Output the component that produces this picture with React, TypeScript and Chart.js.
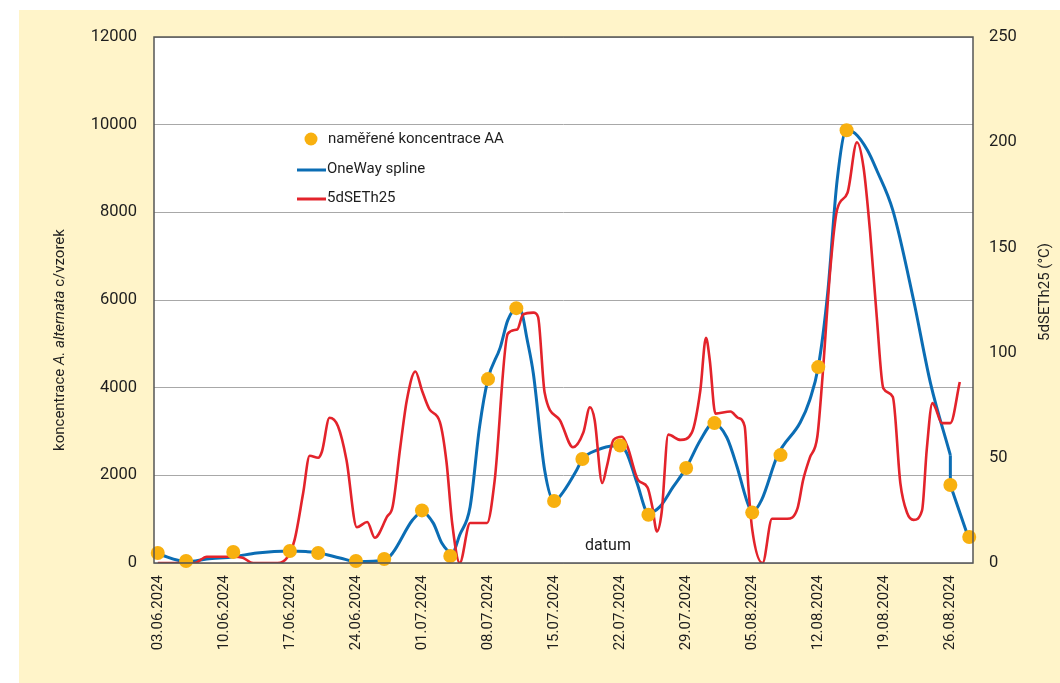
import React, { useEffect, useRef } from "react";
import { Chart, registerables } from "chart.js";

Chart.register(...registerables);

// ---- data ----
const weekLabels = [
  "03.06.2024", "10.06.2024", "17.06.2024", "24.06.2024", "01.07.2024",
  "08.07.2024", "15.07.2024", "22.07.2024", "29.07.2024", "05.08.2024",
  "12.08.2024", "19.08.2024", "26.08.2024",
];
const weekTickDays = [0, 7, 14, 21, 28, 35, 42, 49, 56, 63, 70, 77, 84];

// measured concentrations (days after 03.06.2024)
const measuredDays = [0, 3, 8, 14, 17, 21, 24, 28, 31, 35, 38, 42, 45, 49, 52, 56, 59, 63, 66, 70, 73, 84, 86];
const measuredValues = [228, 46, 250, 274, 228, 46, 91, 1200, 160, 4195, 5814, 1414, 2371, 2680, 1100, 2166, 3192, 1150, 2462, 4469, 9872, 1778, 593];

// OneWay spline (main part)
const splineDays = [
  0, 3.1, 5.2, 8.1, 10.5, 14.1, 15.7, 17.1, 19.3, 21.1, 24.1, 24.9, 27, 28, 29.2, 30.1, 31.2, 32, 33.1, 34.1,
  35, 36.3, 37.1, 38.1, 38.6, 39.1, 39.8, 41, 42, 42.9, 44.4, 45, 46.6, 48.3, 49, 49.7, 50.8, 52, 53.2, 54.6,
  56, 57.5, 58.9, 60.3, 61.4, 62.4, 63, 64, 65.7, 68.1, 69.1, 70, 71, 72, 73, 73.9, 75.2, 76.2, 77.9, 80.1,
  81.9, 84,
];
const splineValues = [
  205, 30, 90, 145, 230, 275, 260, 230, 115, 30, 70, 230, 980, 1160, 910, 455, 230, 640, 1280, 3100,
  4200, 4920, 5540, 5810, 5700, 5150, 4330, 2120, 1410, 1600, 2120, 2370, 2580, 2670, 2670, 2510, 1820, 1140, 1280, 1730,
  2170, 2800, 3190, 2870, 2190, 1440, 1160, 1440, 2460, 3210, 3720, 4470, 6160, 8730, 9870, 9800, 9420, 8960, 8050, 6000,
  4100, 2460,
];
// OneWay spline (final straight drop)
const splineTailDays = [84, 84, 85.9];
const splineTailValues = [2460, 1780, 590];

// 5dSETh25 (°C)
const tempDays = [
  0, 3.9, 5.2, 8.0, 9.0, 10.1, 12.7, 13.7, 14.5, 15.4, 16.1, 17.0, 17.4, 18.2, 19.1, 20.0, 21.1, 22.2, 23.0, 24.3,
  24.9, 25.7, 26.4, 27.3, 28.0, 28.8, 29.9, 30.6, 31.2, 32.0, 33.1, 34.9, 35.7, 37.1, 38.1, 38.7, 39.8, 40.3, 41.0, 42.6,
  44.0, 45.1, 45.8, 46.3, 47.1, 47.6, 48.3, 49.2, 49.8, 50.9, 51.9, 52.4, 52.9, 53.4, 54.1, 55.4, 56.6, 57.5, 58.1, 58.5,
  59.1, 60.7, 61.5, 62.2, 62.6, 63.0, 64.1, 65.1, 66.7, 67.8, 68.4, 69.1, 69.9, 70.4, 71.3, 72.0, 73.1, 74.1, 74.8, 75.5,
  76.2, 76.9, 77.9, 78.7, 79.4, 80.1, 81.0, 81.5, 82.1, 82.4, 83.1, 84.0, 85.0,
];
const tempValues = [
  0, 0, 3, 3, 2.5, 0, 0, 2.5, 11, 33, 51, 50, 53, 69, 65, 49, 17, 19.5, 12, 22,
  27, 55, 77.5, 91, 82, 73, 67, 48, 19, 0, 19, 19, 39, 109, 111, 118, 119, 117, 81, 68,
  55, 62, 74, 68, 38, 46, 58.5, 60, 55, 39.5, 36, 27, 15, 24, 61, 58.5, 62, 82, 107, 96.5,
  71, 72, 69, 65, 36, 16, 0, 21, 21, 26, 39.5, 50, 60, 85.5, 141, 168, 176, 200, 188, 157,
  117, 83, 79, 38, 24, 20.5, 25, 54, 76, 74, 66.5, 66.5, 86,
];

const legendLabels = ["naměřené koncentrace AA", "OneWay spline", "5dSETh25"];
const xTitle = "datum";
const rightTitle = "5dSETh25 (°C)";

const FONT = "Roboto, 'Noto Sans', sans-serif";
const BLUE = "#0b6db4";
const RED = "#e3232b";
const ORANGE = "#f8b00f";
const PANEL = "#fff4c9";
const TEXT = "#1e1e1e";

const decorPlugin = {
  id: "decor",
  beforeDraw(chart: any) {
    const { ctx, chartArea, width, height } = chart;
    ctx.save();
    ctx.fillStyle = "#ffffff";
    ctx.fillRect(0, 0, width, height);
    ctx.fillStyle = PANEL;
    ctx.fillRect(19, 10, width - 19, height - 10);
    ctx.fillStyle = "#ffffff";
    ctx.fillRect(chartArea.left, chartArea.top, chartArea.right - chartArea.left, chartArea.bottom - chartArea.top);
    ctx.restore();
  },
  afterDatasetsDraw(chart: any) {
    const { ctx, chartArea } = chart;
    ctx.save();
    ctx.strokeStyle = "#555555";
    ctx.lineWidth = 1.5;
    ctx.strokeRect(chartArea.left, chartArea.top, chartArea.right - chartArea.left, chartArea.bottom - chartArea.top);
    ctx.restore();
  },
  afterDraw(chart: any) {
    const { ctx } = chart;
    ctx.save();
    ctx.fillStyle = TEXT;
    ctx.textBaseline = "middle";

    // legend
    ctx.font = `15px ${FONT}`;
    ctx.textAlign = "left";
    ctx.beginPath();
    ctx.fillStyle = ORANGE;
    ctx.arc(311, 139, 6.5, 0, Math.PI * 2);
    ctx.fill();
    ctx.fillStyle = TEXT;
    ctx.fillText(legendLabels[0], 328, 139);

    ctx.lineWidth = 3;
    ctx.strokeStyle = BLUE;
    ctx.beginPath();
    ctx.moveTo(297, 170);
    ctx.lineTo(326, 170);
    ctx.stroke();
    ctx.fillText(legendLabels[1], 327, 169);

    ctx.strokeStyle = RED;
    ctx.beginPath();
    ctx.moveTo(297, 199);
    ctx.lineTo(326, 199);
    ctx.stroke();
    ctx.fillText(legendLabels[2], 327, 198);

    // x title inside plot
    ctx.font = `16px ${FONT}`;
    ctx.textAlign = "center";
    ctx.fillText(xTitle, 608, 546);

    // right axis title
    ctx.save();
    ctx.translate(1045, 292);
    ctx.rotate(-Math.PI / 2);
    ctx.font = `15px ${FONT}`;
    ctx.textAlign = "center";
    ctx.fillText(rightTitle, 0, 0);
    ctx.restore();

    // left axis title with italic species name
    ctx.save();
    ctx.translate(60, 340);
    ctx.rotate(-Math.PI / 2);
    const parts: [string, boolean][] = [["koncentrace ", false], ["A. alternata", true], [" c/vzorek", false]];
    let total = 0;
    const widths: number[] = [];
    for (const [t, it] of parts) {
      ctx.font = `${it ? "italic " : ""}15px ${FONT}`;
      const w = ctx.measureText(t).width;
      widths.push(w);
      total += w;
    }
    let x = -total / 2;
    ctx.textAlign = "left";
    parts.forEach(([t, it], i) => {
      ctx.font = `${it ? "italic " : ""}15px ${FONT}`;
      ctx.fillText(t, x, 0);
      x += widths[i];
    });
    ctx.restore();

    ctx.restore();
  },
};

export default function App() {
  const canvasRef = useRef<HTMLCanvasElement | null>(null);

  useEffect(() => {
    const canvas = canvasRef.current;
    if (!canvas) return;

    const dots = measuredDays.map((d, i) => ({ x: d, y: measuredValues[i] }));
    const spline = splineDays.map((d, i) => ({ x: d, y: splineValues[i] }));
    const splineTail = splineTailDays.map((d, i) => ({ x: d, y: splineTailValues[i] }));
    const temp = tempDays.map((d, i) => ({ x: d, y: tempValues[i] }));

    const chart = new Chart(canvas, {
      type: "line",
      data: {
        datasets: [
          {
            label: legendLabels[0],
            data: dots,
            yAxisID: "y",
            showLine: false,
            pointRadius: 7,
            pointBackgroundColor: ORANGE,
            pointBorderWidth: 0,
            backgroundColor: ORANGE,
            borderColor: ORANGE,
            clip: false as any,
          },
          {
            label: legendLabels[2],
            data: temp,
            yAxisID: "y1",
            borderColor: RED,
            borderWidth: 2.6,
            pointRadius: 0,
            cubicInterpolationMode: "monotone",
            fill: false,
          },
          {
            label: legendLabels[1],
            data: spline,
            yAxisID: "y",
            borderColor: BLUE,
            borderWidth: 3,
            pointRadius: 0,
            cubicInterpolationMode: "monotone",
            fill: false,
          },
          {
            label: legendLabels[1] + " (tail)",
            data: splineTail,
            yAxisID: "y",
            borderColor: BLUE,
            borderWidth: 3,
            pointRadius: 0,
            tension: 0,
            fill: false,
          },
        ],
      },
      options: {
        responsive: false,
        animation: false,
        devicePixelRatio: 1,
        layout: { padding: { top: 37, left: 0, right: 0, bottom: 0 } },
        plugins: {
          legend: { display: false },
          tooltip: { enabled: false },
          title: { display: false },
        },
        scales: {
          x: {
            type: "linear",
            min: -0.4,
            max: 86.4,
            grid: { display: false, drawTicks: false },
            border: { display: false },
            ticks: {
              autoSkip: false,
              minRotation: 90,
              maxRotation: 90,
              padding: 12,
              color: TEXT,
              font: { family: FONT, size: 15 },
              callback: (v: any) => {
                const idx = weekTickDays.indexOf(Number(v));
                return idx >= 0 ? weekLabels[idx] : "";
              },
            },
            afterBuildTicks: (s: any) => {
              s.ticks = weekTickDays.map((v) => ({ value: v }));
            },
            afterFit: (s: any) => {
              s.height = 120;
            },
          },
          y: {
            position: "left",
            min: 0,
            max: 12000,
            ticks: {
              stepSize: 2000,
              padding: 17,
              color: TEXT,
              font: { family: FONT, size: 16.5 },
              callback: (v: any) => String(v),
            },
            grid: { color: "#a8a8a8", lineWidth: 1, drawTicks: false },
            border: { display: false },
            afterFit: (s: any) => {
              s.width = 154;
            },
          },
          y1: {
            position: "right",
            min: 0,
            max: 250,
            ticks: {
              stepSize: 50,
              padding: 16,
              color: TEXT,
              font: { family: FONT, size: 16.5 },
              callback: (v: any) => String(v),
            },
            grid: { display: false, drawTicks: false },
            border: { display: false },
            afterFit: (s: any) => {
              s.width = 87;
            },
          },
        },
      } as any,
      plugins: [decorPlugin],
    });

    return () => chart.destroy();
  }, []);

  return (
    <div style={{ position: "absolute", left: 0, top: 0, width: 1060, height: 683 }}>
      <canvas ref={canvasRef} width={1060} height={683} style={{ display: "block", width: 1060, height: 683 }} />
    </div>
  );
}
